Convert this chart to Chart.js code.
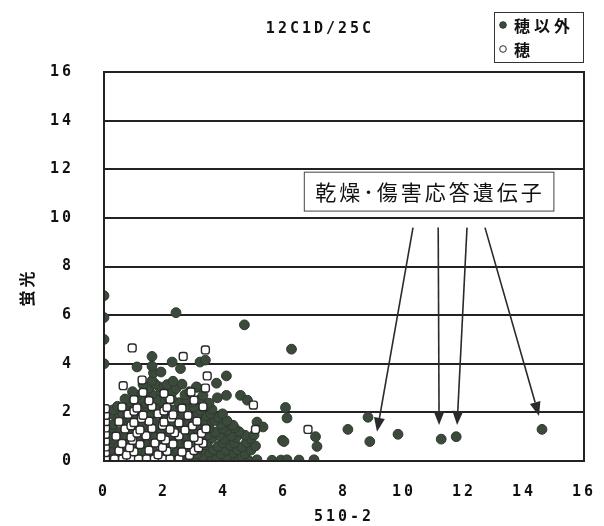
<!DOCTYPE html>
<html>
<head>
<meta charset="utf-8">
<script src="https://cdn.jsdelivr.net/npm/chart.js@4/dist/chart.umd.min.js"></script>
<style>
  html, body { margin: 0; padding: 0; background: #ffffff; }
  canvas { display: block; }
</style>
</head>
<body>
<canvas id="chart" width="604" height="526"></canvas>
<script>
// ---- chart text ----
const chartTitle = '12C1D/25C';
const xAxisTitle = '510-2';
const yAxisTitle = '蛍光';
const seriesNames = ['穂以外', '穂'];
const noteText = '乾燥･傷害応答遺伝子';

// ---- axis ranges / ticks ----
const xRange = [0, 16];
const yRange = [0, 16];
const tickStep = 2;

// ---- series: 穂以外 (filled) as [x, y] ----
const otherPoints = [
  [2.7,0.05],[3.0,0.04],[3.3,0.06],[3.6,0.05],[3.9,0.04],[4.2,0.06],[4.5,0.05],[4.8,0.04],[5.1,0.05],[5.6,0.03],[5.9,0.04],[6.1,0.05],[6.5,0.04],[7.0,0.05],
  [0.55,0.15],[1.05,0.17],[1.55,0.14],[2.05,0.16],[2.55,0.15],[3.3,0.18],[3.75,0.14],[4.1,0.16],[4.6,0.15],
  [0.3,0.32],[0.8,0.28],[1.3,0.35],[1.8,0.3],[2.3,0.27],[2.8,0.33],[3.1,0.3],[3.5,0.36],[3.9,0.29],[4.3,0.34],[4.7,0.3],
  [0.2,0.45],[0.6,0.47],[1.1,0.44],[1.6,0.46],[2.45,0.45],[2.95,0.43],[3.25,0.47],[3.65,0.45],[4.05,0.44],[4.45,0.46],[4.9,0.45],
  [0.45,0.62],[0.95,0.58],[1.5,0.65],[2.05,0.6],[2.6,0.63],[3.05,0.57],[3.4,0.66],[3.8,0.6],[4.2,0.64],[4.6,0.58],[5.05,0.62],
  [0.2,0.75],[0.65,0.77],[1.35,0.74],[1.85,0.76],[2.45,0.75],[2.95,0.73],[3.45,0.77],[3.95,0.75],[4.35,0.74],[4.75,0.76],
  [0.3,0.9],[0.75,0.95],[1.2,0.88],[1.7,0.93],[2.2,0.9],[2.7,0.96],[3.2,0.89],[3.6,0.94],[4.0,0.9],[4.4,0.97],[4.9,0.92],
  [0.2,1.05],[0.65,1.07],[1.15,1.04],[1.65,1.06],[2.15,1.05],[2.65,1.03],[3.45,1.07],[3.85,1.05],[4.25,1.04],[4.7,1.06],
  [0.5,1.2],[1.0,1.25],[1.45,1.18],[1.9,1.22],[2.4,1.27],[2.9,1.2],[3.3,1.24],[3.7,1.19],[4.1,1.26],[4.5,1.21],
  [0.25,1.35],[0.75,1.37],[1.2,1.34],[1.65,1.36],[2.15,1.35],[2.6,1.33],[3.05,1.37],[3.5,1.35],[3.95,1.34],[4.35,1.36],
  [0.3,1.5],[0.8,1.55],[1.3,1.48],[1.8,1.53],[2.2,1.5],[2.65,1.56],[3.1,1.49],[3.5,1.54],[3.9,1.5],[4.3,1.47],
  [0.55,1.65],[1.05,1.67],[1.6,1.64],[2.3,1.66],[2.85,1.65],[3.3,1.63],[3.7,1.67],[4.1,1.65],
  [0.4,1.82],[0.9,1.78],[1.5,1.85],[2.0,1.8],[2.5,1.83],[3.0,1.79],[3.4,1.86],[3.8,1.8],
  [0.2,1.95],[0.6,1.97],[1.1,1.94],[1.55,1.96],[2.15,1.95],[2.65,1.93],[3.15,1.97],[3.55,1.95],[3.95,1.94],
  [0.3,2.1],[0.7,2.15],[1.2,2.08],[1.7,2.13],[2.3,2.1],[2.8,2.16],[3.2,2.09],[3.6,2.12],
  [0.45,2.25],[0.95,2.27],[1.45,2.24],[2.0,2.26],[2.55,2.25],[3.0,2.23],[3.4,2.27],
  [0.9,2.42],[1.4,2.38],[1.9,2.45],[2.5,2.4],[2.95,2.44],[3.5,2.38],
  [0.7,2.55],[1.2,2.57],[1.75,2.54],[2.25,2.56],[2.75,2.55],[3.2,2.53],
  [1.1,2.7],[1.6,2.74],[2.1,2.68],[2.7,2.72],[3.3,2.7],
  [0.95,2.85],[1.4,2.87],[1.9,2.84],[2.3,2.86],[2.85,2.85],
  [1.5,3.0],[1.85,3.05],[2.4,2.98],[3.1,3.03],
  [1.3,3.15],[1.7,3.17],[2.1,3.14],[2.6,3.16],
  [1.6,3.3],[2.3,3.28],[1.65,3.62],[1.9,3.66],
  [1.1,3.87],[1.6,3.9],[2.55,3.8],[2.27,4.07],[3.2,4.07],
  [0,6.8],[0,5.9],[0,5.0],[0,4.0],[2.4,6.1],[4.68,5.6],[6.25,4.6],[1.6,4.3],[3.38,4.15],
  [4.08,3.5],[3.08,3.05],[3.75,3.2],[3.78,2.6],[4.08,2.7],[4.55,2.7],[4.78,2.5],
  [5.1,1.6],[5.3,1.4],[5.0,1.07],[5.95,0.85],[6.1,1.77],[6.05,2.2],[6.0,0.8],[7.05,1.0],[7.1,0.6],
  [8.13,1.3],[8.86,0.8],[8.8,1.8],[9.8,1.1],[11.24,0.9],[11.74,1.0],[14.6,1.3]
];

// ---- series: 穂 (open) as [x, y] ----
const earPoints = [
  [0.05,0.12],[0.05,0.35],[0.05,0.58],[0.05,0.82],[0.05,1.1],[0.05,1.36],[0.05,1.62],[0.05,1.88],[0.05,2.15],
  [0.35,0.08],[0.62,0.08],[0.9,0.08],[1.15,0.08],[1.42,0.08],[1.68,0.08],[1.95,0.08],[2.2,0.08],[2.5,0.08],
  [0.75,0.25],[1.8,0.26],[2.85,0.24],
  [0.5,0.42],[1.0,0.38],[1.5,0.44],[2.1,0.4],[2.6,0.37],[3.0,0.43],
  [0.85,0.55],[1.95,0.56],[3.15,0.54],
  [0.6,0.72],[1.2,0.68],[1.7,0.74],[2.3,0.7],[2.8,0.67],[3.3,0.73],
  [0.95,0.85],[2.05,0.86],[3.15,0.84],
  [0.4,1.02],[0.9,0.98],[1.4,1.04],[1.9,1.0],[2.5,1.03],[3.0,0.97],
  [1.1,1.15],[2.35,1.16],[3.25,1.14],
  [0.7,1.32],[1.2,1.28],[1.6,1.34],[2.2,1.3],[2.7,1.27],[3.4,1.33],
  [0.9,1.45],[1.95,1.46],[2.95,1.44],
  [0.5,1.62],[1.0,1.58],[1.5,1.64],[2.0,1.6],[2.5,1.57],[3.1,1.63],
  [1.25,1.75],[2.25,1.76],
  [0.8,1.92],[1.3,1.88],[1.8,1.94],[2.3,1.9],[2.8,1.87],
  [1.0,2.05],[2.0,2.06],
  [0.6,2.22],[1.1,2.18],[1.6,2.24],[2.1,2.2],[2.6,2.17],[3.3,2.23],
  [1.0,2.52],[1.5,2.48],[2.2,2.54],[3.0,2.5],
  [1.3,2.82],[2.0,2.78],[2.9,2.84],[1.27,3.33],
  [0.94,4.65],[3.38,4.57],[2.64,4.3],[0.64,3.1],[3.44,3.5],[3.38,3.0],[4.98,2.3],[5.05,1.3],[6.8,1.3]
];

// ---- annotation (data units) ----
const noteBox = { x0: 6.66, x1: 14.98, y0: 10.3, y1: 11.9 };
const arrowStartX = [10.3, 11.14, 12.1, 12.7];
const arrowStartY = [9.6, 9.6, 9.6, 9.6];
const arrowEndX = [9.1, 11.17, 11.77, 14.5];
const arrowEndY = [1.2, 1.48, 1.48, 1.85];

const ink = '#222222';
const dotFill = '#3b4a3b';
const numFont = "'DejaVu Sans Mono', monospace";
const jpFont = "'Noto Sans CJK JP', 'Noto Sans', sans-serif";

function toXY(list) { return list.map(p => ({ x: p[0], y: p[1] })); }

function drawArrow(ctx, x1, y1, x2, y2) {
  const ang = Math.atan2(y2 - y1, x2 - x1);
  const len = 14, half = 5.5;
  const bx = x2 - len * Math.cos(ang), by = y2 - len * Math.sin(ang);
  ctx.beginPath();
  ctx.moveTo(x1, y1);
  ctx.lineTo(bx, by);
  ctx.stroke();
  ctx.beginPath();
  ctx.moveTo(x2, y2);
  ctx.lineTo(bx + half * Math.sin(ang), by - half * Math.cos(ang));
  ctx.lineTo(bx - half * Math.sin(ang), by + half * Math.cos(ang));
  ctx.closePath();
  ctx.fill();
}

const decor = {
  id: 'decor',
  beforeDraw(chart) {
    const ctx = chart.ctx;
    ctx.save();
    ctx.fillStyle = '#ffffff';
    ctx.fillRect(0, 0, chart.width, chart.height);
    ctx.restore();
    ctx.letterSpacing = '3px';
  },
  afterDatasetsDraw(chart) {
    const { ctx, chartArea: a, scales: { x, y } } = chart;
    ctx.save();
    ctx.letterSpacing = '0px';
    // plot frame
    ctx.strokeStyle = ink;
    ctx.lineWidth = 2;
    ctx.strokeRect(a.left, a.top, a.right - a.left, a.bottom - a.top);

    // annotation box
    const bx0 = x.getPixelForValue(noteBox.x0), bx1 = x.getPixelForValue(noteBox.x1);
    const by0 = y.getPixelForValue(noteBox.y1), by1 = y.getPixelForValue(noteBox.y0);
    ctx.fillStyle = '#ffffff';
    ctx.fillRect(bx0, by0, bx1 - bx0, by1 - by0);
    ctx.lineWidth = 1;
    ctx.strokeStyle = '#444444';
    ctx.strokeRect(bx0 + 0.5, by0 + 0.5, bx1 - bx0, by1 - by0);
    ctx.fillStyle = '#111111';
    ctx.font = "21px " + jpFont;
    ctx.letterSpacing = '3px';
    ctx.textAlign = 'center';
    ctx.textBaseline = 'middle';
    ctx.fillText(noteText, (bx0 + bx1) / 2 + 1.5, (by0 + by1) / 2 + 1);
    ctx.letterSpacing = '0px';

    // arrows
    ctx.strokeStyle = '#2a2a2a';
    ctx.fillStyle = '#2a2a2a';
    ctx.lineWidth = 1.6;
    for (let i = 0; i < arrowStartX.length; i++) {
      drawArrow(ctx,
        x.getPixelForValue(arrowStartX[i]), y.getPixelForValue(arrowStartY[i]),
        x.getPixelForValue(arrowEndX[i]), y.getPixelForValue(arrowEndY[i]));
    }
    ctx.restore();
  },
  afterDraw(chart) {
    const ctx = chart.ctx;
    const ds = chart.data.datasets;
    ctx.save();
    // chart title
    ctx.fillStyle = '#111111';
    ctx.font = "bold 15px " + numFont;
    ctx.letterSpacing = '3px';
    ctx.textAlign = 'center';
    ctx.textBaseline = 'middle';
    ctx.fillText(chartTitle, 320, 29);

    // y axis title, rotated
    ctx.save();
    ctx.translate(27, 289);
    ctx.rotate(-Math.PI / 2);
    ctx.font = "bold 16px " + jpFont;
    ctx.letterSpacing = '3px';
    ctx.fillText(yAxisTitle, 1.5, 0);
    ctx.restore();

    // legend box
    const lx = 494, ly = 12, lw = 89, lh = 50;
    ctx.letterSpacing = '0px';
    ctx.lineWidth = 1;
    ctx.strokeStyle = '#333333';
    ctx.strokeRect(lx + 0.5, ly + 0.5, lw, lh);
    ctx.font = "bold 16px " + jpFont;
    ctx.letterSpacing = '4px';
    ctx.textAlign = 'left';
    for (let i = 0; i < ds.length; i++) {
      const cy = ly + 13 + i * 24;
      ctx.beginPath();
      ctx.arc(lx + 9, cy, 3.3, 0, Math.PI * 2);
      ctx.fillStyle = ds[i].backgroundColor;
      ctx.fill();
      ctx.lineWidth = 1;
      ctx.strokeStyle = ds[i].borderColor;
      ctx.stroke();
      ctx.fillStyle = '#111111';
      ctx.fillText(ds[i].label, lx + 20, cy + 1);
    }
    ctx.restore();
    ctx.letterSpacing = '0px';
  }
};

new Chart(document.getElementById('chart'), {
  type: 'scatter',
  data: {
    datasets: [
      {
        label: seriesNames[0],
        data: toXY(otherPoints),
        backgroundColor: dotFill,
        borderColor: '#2f3a2f',
        borderWidth: 1,
        pointRadius: 4.9,
        pointHoverRadius: 4.9,
        order: 2
      },
      {
        label: seriesNames[1],
        data: toXY(earPoints),
        backgroundColor: '#ffffff',
        borderColor: '#2a2a2a',
        borderWidth: 1.4,
        pointStyle: 'rectRounded',
        pointRadius: 4.6,
        pointHoverRadius: 4.6,
        order: 1
      }
    ]
  },
  options: {
    responsive: false,
    animation: false,
    events: [],
    layout: { padding: { top: 72, right: 20, left: 0, bottom: 0 } },
    plugins: {
      legend: { display: false },
      title: { display: false },
      tooltip: { enabled: false }
    },
    scales: {
      x: {
        type: 'linear',
        min: xRange[0], max: xRange[1],
        afterFit(scale) {
          scale.height = 65;
          scale.paddingLeft = 0;
          scale.paddingRight = 0;
        },
        grid: { display: false, drawTicks: false },
        border: { display: true, color: ink, width: 2 },
        ticks: {
          stepSize: tickStep,
          padding: 22,
          color: '#111111',
          font: { family: numFont, size: 15, weight: 'bold' }
        },
        title: {
          display: true,
          text: xAxisTitle,
          color: '#111111',
          padding: { top: 0, bottom: 0 },
          font: { family: numFont, size: 15, weight: 'bold' }
        }
      },
      y: {
        type: 'linear',
        min: yRange[0], max: yRange[1],
        afterFit(scale) { scale.width = 104; },
        grid: { display: true, color: ink, lineWidth: 2, drawTicks: false },
        border: { display: true, color: ink, width: 2 },
        ticks: {
          stepSize: tickStep,
          padding: 30,
          color: '#111111',
          font: { family: numFont, size: 15, weight: 'bold' }
        },
        title: { display: false }
      }
    }
  },
  plugins: [decor]
});
</script>
</body>
</html>
